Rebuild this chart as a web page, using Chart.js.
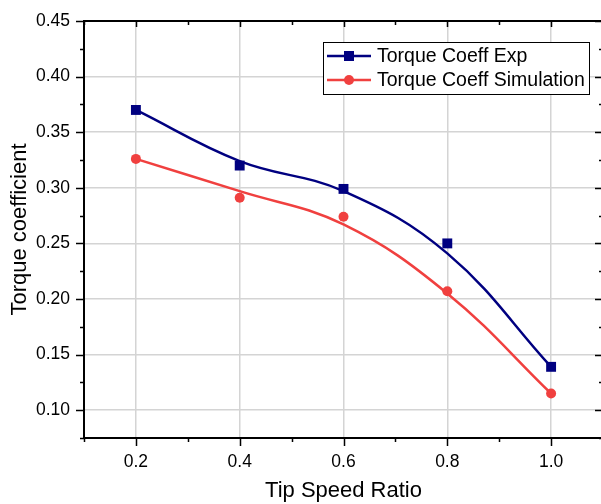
<html>
<head>
<script src="https://cdn.jsdelivr.net/npm/chart.js@4"></script>
<style>
  body { margin: 0; overflow: hidden; background: #fff; }
  #wrap { width: 603px; height: 504px; }
</style>
</head>
<body>
<div id="wrap"><canvas id="myChart" width="603" height="504"></canvas></div>
<script>
// tip speed ratio
var tsr = [0.2, 0.4, 0.6, 0.8, 1.0];
// measured points
var expVals = [0.37, 0.32, 0.299, 0.25, 0.139];
var simVals = [0.326, 0.291, 0.274, 0.207, 0.115];
// smoothed curve (it does not go through every point)
var expCurve = [0.37, 0.324, 0.297, 0.241, 0.139];
var simCurve = [0.326, 0.297, 0.267, 0.205, 0.115];

var xTicks = [0.2, 0.4, 0.6, 0.8, 1.0];
var xMinor = [0.1, 0.3, 0.5, 0.7, 0.9, 1.1];
var yTicks = [0.10, 0.15, 0.20, 0.25, 0.30, 0.35, 0.40, 0.45];
var yMinor = [0.075, 0.125, 0.175, 0.225, 0.275, 0.325, 0.375, 0.425];

var expColor = "#000080";
var simColor = "#f0403f";
var font = 'Arial, "Liberation Sans", sans-serif';

function pts(ys) {
  return tsr.map(function (x, i) { return { x: x, y: ys[i] }; });
}

// axis frame with major + minor ticks (origin style)
var framePlugin = {
  id: "frame",
  afterDraw: function (chart) {
    var ctx = chart.ctx, a = chart.chartArea;
    var xs = chart.scales.x, ys = chart.scales.y;
    ctx.save();
    ctx.strokeStyle = "#000";
    ctx.lineWidth = 2;
    ctx.beginPath();
    ctx.moveTo(a.left, a.top); ctx.lineTo(a.right, a.top);
    ctx.lineTo(a.right, a.bottom); ctx.lineTo(a.left, a.bottom);
    ctx.closePath();
    ctx.stroke();
    ctx.lineWidth = 1.5;
    ctx.beginPath();
    function xt(v, len, lenTop) {
      var p = Math.round(xs.getPixelForValue(v)) + 0.5;
      ctx.moveTo(p, a.bottom); ctx.lineTo(p, a.bottom + len);
      ctx.moveTo(p, a.top); ctx.lineTo(p, a.top + lenTop);
    }
    function yt(v, len) {
      var p = Math.round(ys.getPixelForValue(v)) + 0.5;
      ctx.moveTo(a.left, p); ctx.lineTo(a.left - len, p);
      ctx.moveTo(a.right, p); ctx.lineTo(a.right - len, p);
    }
    xTicks.forEach(function (v) { xt(v, 8, 6); });
    xMinor.forEach(function (v) { xt(v, 4, 4); });
    yTicks.forEach(function (v) { yt(v, 8); });
    yMinor.forEach(function (v) { yt(v, 4); });
    ctx.stroke();
    ctx.restore();
  }
};

// boxed legend inside plot
var legendPlugin = {
  id: "boxLegend",
  afterDraw: function (chart) {
    var ctx = chart.ctx;
    var items = [
      { label: "Torque Coeff Exp", color: expColor, style: "rect" },
      { label: "Torque Coeff Simulation", color: simColor, style: "circle" }
    ];
    ctx.save();
    ctx.fillStyle = "#fff";
    ctx.fillRect(323, 42, 266, 52);
    ctx.strokeStyle = "#000";
    ctx.lineWidth = 1;
    ctx.strokeRect(323.5, 42.5, 266, 52);
    ctx.font = "19.5px " + font;
    ctx.textBaseline = "middle";
    items.forEach(function (it, i) {
      var y = 56 + i * 24;
      ctx.strokeStyle = it.color;
      ctx.fillStyle = it.color;
      ctx.lineWidth = 2.5;
      ctx.beginPath();
      ctx.moveTo(327, y); ctx.lineTo(371, y);
      ctx.stroke();
      if (it.style === "rect") {
        ctx.fillRect(344, y - 5, 10, 10);
      } else {
        ctx.beginPath();
        ctx.arc(349, y, 5, 0, Math.PI * 2);
        ctx.fill();
      }
      ctx.fillStyle = "#000";
      ctx.fillText(it.label, 377, y + 1);
    });
    ctx.restore();
  }
};

var ctx = document.getElementById("myChart").getContext("2d");
var chart = new Chart(ctx, {
  type: "line",
  data: {
    datasets: [
      { label: "exp curve", data: pts(expCurve), borderColor: expColor, borderWidth: 2.5,
        tension: 0.4, pointRadius: 0, fill: false },
      { label: "sim curve", data: pts(simCurve), borderColor: simColor, borderWidth: 2.5,
        tension: 0.4, pointRadius: 0, fill: false },
      { label: "Torque Coeff Exp", data: pts(expVals), showLine: false, pointStyle: "rect",
        pointRadius: 7, pointBorderWidth: 0, backgroundColor: expColor, borderColor: expColor },
      { label: "Torque Coeff Simulation", data: pts(simVals), showLine: false, pointStyle: "circle",
        pointRadius: 5, pointBorderWidth: 0, backgroundColor: simColor, borderColor: simColor }
    ]
  },
  options: {
    responsive: false,
    animation: false,
    layout: { autoPadding: false, padding: { top: 21, left: 0, right: 0, bottom: 0 } },
    plugins: { legend: { display: false }, tooltip: { enabled: false } },
    scales: {
      x: {
        type: "linear", min: 0.1, max: 1.1,
        afterBuildTicks: function (s) { s.ticks = xTicks.map(function (v) { return { value: v }; }); },
        afterFit: function (s) { s.height = 66; s.paddingLeft = 0; s.paddingRight = 0; },
        grid: { color: "#d4d4d4", lineWidth: 1.5, drawTicks: false },
        border: { display: false },
        ticks: { padding: 14, color: "#000", font: { family: font, size: 17.5 },
          maxRotation: 0, callback: function (v) { return Number(v).toFixed(1); } },
        title: { display: true, text: "Tip Speed Ratio", color: "#000",
          font: { family: font, size: 22 }, padding: { top: 0, bottom: 0 } }
      },
      y: {
        type: "linear", min: 0.075, max: 0.45,
        afterBuildTicks: function (s) { s.ticks = yTicks.map(function (v) { return { value: v }; }); },
        afterFit: function (s) { s.width = 84; s.paddingTop = 0; s.paddingBottom = 0; },
        grid: { color: "#d4d4d4", lineWidth: 1.5, drawTicks: false },
        border: { display: false },
        ticks: { padding: 14, color: "#000", font: { family: font, size: 17.5 },
          callback: function (v) { return Number(v).toFixed(2); } },
        title: { display: true, text: "Torque coefficient", color: "#000",
          font: { family: font, size: 22 }, padding: { top: 7, bottom: 0 } }
      }
    }
  },
  plugins: [framePlugin, legendPlugin]
});
</script>
</body>
</html>
